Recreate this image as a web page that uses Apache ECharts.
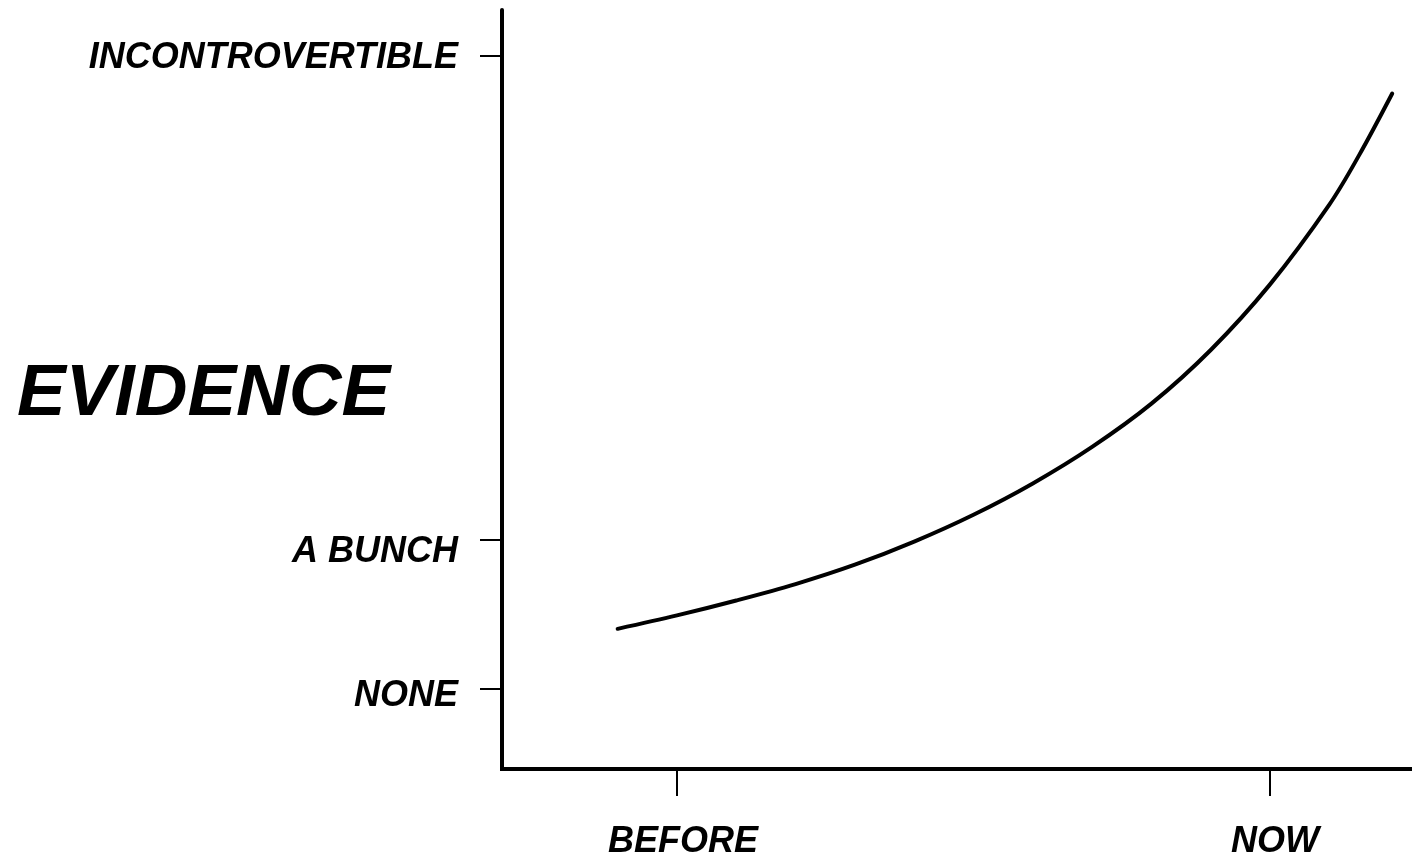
<!DOCTYPE html>
<html>
<head>
<meta charset="utf-8">
<script src="https://cdn.jsdelivr.net/npm/echarts@6/dist/echarts.min.js"></script>
<style>
html,body{margin:0;padding:0;background:#fff;}
#chart{width:1417px;height:864px;}
</style>
</head>
<body>
<div id="chart"></div>
<script>
// X positions: BEFORE = 0, NOW = 10
const xTickValues = [0, 10];
const xTickLabels = ['BEFORE', 'NOW'];
// Y levels: NONE = 0, A BUNCH = 20, INCONTROVERTIBLE = 85
const yTickValues = [0, 20, 85];
const yTickLabels = ['NONE', 'A BUNCH', 'INCONTROVERTIBLE'];
const axisTitle = 'EVIDENCE';
// Evidence curve
const curveX = [-1, 0, 1, 2, 3, 4, 5, 6, 7, 8, 9, 10, 11, 11.5, 12.06];
const curveY = [8.1, 9.9, 11.9, 14.1, 16.7, 19.8, 23.4, 27.6, 32.5, 38.3, 45.5, 54.3, 65.0, 71.6, 79.9];

const FONT = '"Liberation Sans", Arial, sans-serif';
const chart = echarts.init(document.getElementById('chart'), null, {renderer: 'canvas'});

const labelStyle = {
  fontFamily: FONT,
  fontSize: 36,
  fontWeight: 'bold',
  fontStyle: 'italic',
  color: '#000'
};
// per-label vertical nudges on the y axis (label box padding)
const yRich = {
  r0: Object.assign({padding: [14, 0, 0, 0]}, labelStyle),
  r1: Object.assign({padding: [24, 0, 0, 0]}, labelStyle),
  r2: Object.assign({padding: [6, 0, 0, 0]}, labelStyle)
};
const xRich = {
  x0: Object.assign({padding: [0, 0, 0, 12]}, labelStyle),
  x1: Object.assign({padding: [0, 0, 0, 10]}, labelStyle)
};

function labelFor(values, labels, prefix) {
  return function (v) {
    for (let i = 0; i < values.length; i++) {
      if (Math.abs(values[i] - v) < 1e-6) return '{' + prefix + i + '|' + labels[i] + '}';
    }
    return '';
  };
}

chart.setOption({
  animation: false,
  backgroundColor: '#ffffff',
  title: {
    text: axisTitle,
    left: 12,
    top: 353,
    textStyle: {
      fontFamily: FONT,
      fontSize: 73,
      fontWeight: 'bold',
      fontStyle: 'italic',
      color: '#000'
    }
  },
  grid: {
    left: 502,
    right: 7,
    top: 10,
    bottom: 95,
    containLabel: false
  },
  xAxis: {
    type: 'value',
    min: -2.95,
    max: 12.36,
    splitLine: {show: false},
    axisLine: {show: true, onZero: false, lineStyle: {color: '#000', width: 4, cap: 'square'}},
    axisTick: {show: true, customValues: xTickValues, length: 27, lineStyle: {color: '#000', width: 2}},
    axisLabel: Object.assign({
      show: true,
      customValues: xTickValues,
      formatter: labelFor(xTickValues, xTickLabels, 'x'),
      margin: 55,
      rich: xRich
    }, labelStyle)
  },
  yAxis: {
    type: 'value',
    min: -10.7,
    max: 91.1,
    splitLine: {show: false},
    axisLine: {show: true, onZero: false, lineStyle: {color: '#000', width: 4}},
    axisTick: {show: true, customValues: yTickValues, length: 22, lineStyle: {color: '#000', width: 2}},
    axisLabel: Object.assign({
      show: true,
      customValues: yTickValues,
      formatter: labelFor(yTickValues, yTickLabels, 'r'),
      margin: 44,
      rich: yRich
    }, labelStyle)
  },
  series: [{
    type: 'line',
    data: curveX.map((x, i) => [x, curveY[i]]),
    smooth: 0.35,
    showSymbol: false,
    symbol: 'none',
    clip: false,
    lineStyle: {color: '#000', width: 4, cap: 'round'}
  }]
});
</script>
</body>
</html>
